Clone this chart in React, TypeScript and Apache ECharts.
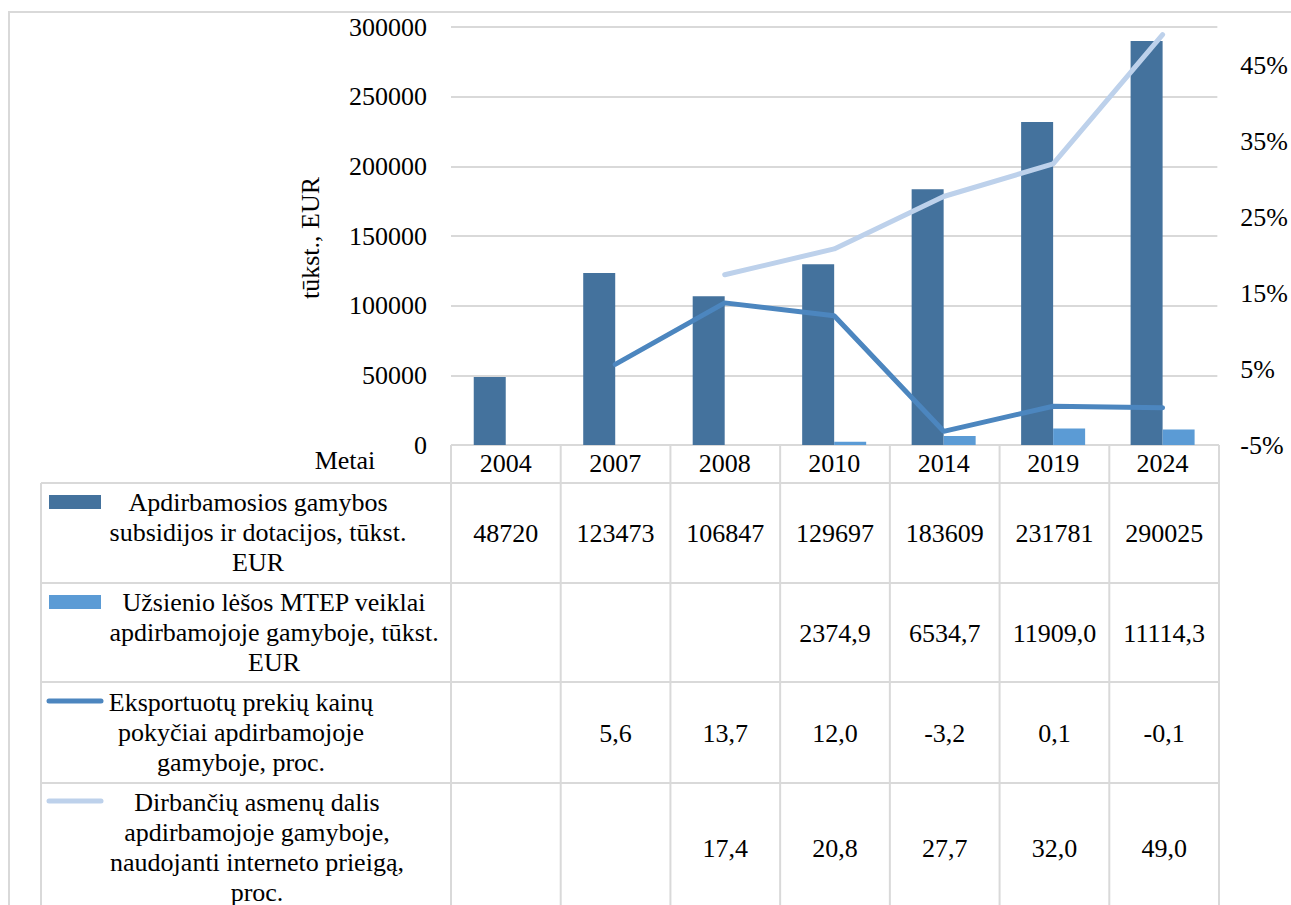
import React, { useEffect, useRef } from "react";
import * as echarts from "echarts";

const years = ["2004", "2007", "2008", "2010", "2014", "2019", "2024"];
const subsidies = [48720, 123473, 106847, 129697, 183609, 231781, 290025];
const foreignFunds = [null, null, null, 2374.9, 6534.7, 11909.0, 11114.3];
const exportPriceChange = [null, 5.6, 13.7, 12.0, -3.2, 0.1, -0.1];
const internetShare = [null, null, 17.4, 20.8, 27.7, 32.0, 49.0];

const seriesNames = [
  "Apdirbamosios gamybos\nsubsidijos ir dotacijos, tūkst.\nEUR",
  "Užsienio lėšos MTEP veiklai\napdirbamojoje gamyboje, tūkst.\nEUR",
  "Eksportuotų prekių kainų\npokyčiai apdirbamojoje\ngamyboje, proc.",
  "Dirbančių asmenų dalis\napdirbamojoje gamyboje,\nnaudojanti interneto prieigą,\nproc.",
];

const leftTicks = { min: 0, max: 300000, interval: 50000 };
const rightTicks = { min: -5, max: 50, interval: 10 };

const C_DARK = "#44729D";
const C_LIGHT = "#5B9BD5";
const C_LINE1 = "#4C86BF";
const C_LINE2 = "#BDD1EB";
const C_GRID = "#D9D9D9";
const FONT = "'Liberation Serif', 'Times New Roman', serif";
const FS = 26;

export default function App() {
  const ref = useRef<HTMLDivElement>(null);
  useEffect(() => {
    if (!ref.current) return;
    const chart = echarts.init(ref.current, null, { renderer: "svg" });

    const gridLeft = 451;
    const gridRight = 1219;
    const gridTop = 27;
    const gridBottom = 445;
    const colW = (gridRight - gridLeft) / years.length;
    const tableLeft = 41;
    const rowLines = [483, 583, 682, 783];
    const tableBottom = 910;
    const nameCenters = [258, 274, 241, 257];
    const nameFirstLine = [502, 602, 702, 802];
    const valueCenters = [533, 633, 733, 848];

    const fmt1 = (v: number | null) => (v == null ? "" : v.toFixed(1).replace(".", ","));
    const fmt0 = (v: number | null) => (v == null ? "" : String(v));
    const rows = [
      subsidies.map(fmt0),
      foreignFunds.map(fmt1),
      exportPriceChange.map(fmt1),
      internetShare.map(fmt1),
    ];

    const lineStyle = { stroke: C_GRID, lineWidth: 2 };
    const graphics: any[] = [];
    graphics.push({
      type: "rect",
      shape: { x: 9, y: 12, width: 1320, height: 1000 },
      style: { fill: "none", stroke: C_GRID, lineWidth: 2 },
      silent: true,
    });
    // table horizontal lines
    graphics.push({ type: "line", shape: { x1: gridLeft, y1: gridBottom, x2: gridRight, y2: gridBottom }, style: lineStyle });
    rowLines.forEach((y) =>
      graphics.push({ type: "line", shape: { x1: tableLeft, y1: y, x2: gridRight, y2: y }, style: lineStyle })
    );
    // vertical lines
    graphics.push({ type: "line", shape: { x1: tableLeft, y1: rowLines[0], x2: tableLeft, y2: tableBottom }, style: lineStyle });
    for (let i = 0; i <= years.length; i++) {
      const x = gridLeft + i * colW;
      graphics.push({ type: "line", shape: { x1: x, y1: gridBottom, x2: x, y2: tableBottom }, style: lineStyle });
    }
    // legend keys
    graphics.push({ type: "rect", shape: { x: 49, y: 495, width: 52, height: 14 }, style: { fill: C_DARK } });
    graphics.push({ type: "rect", shape: { x: 49, y: 595, width: 52, height: 14 }, style: { fill: C_LIGHT } });
    graphics.push({ type: "line", shape: { x1: 49, y1: 701, x2: 101, y2: 701 }, style: { stroke: C_LINE1, lineWidth: 5, lineCap: "round" } });
    graphics.push({ type: "line", shape: { x1: 49, y1: 801, x2: 101, y2: 801 }, style: { stroke: C_LINE2, lineWidth: 5, lineCap: "round" } });
    // series names
    seriesNames.forEach((name, r) => {
      graphics.push({
        type: "text",
        x: nameCenters[r],
        y: nameFirstLine[r] - 15,
        style: {
          text: name,
          fontSize: FS,
          fontFamily: FONT,
          lineHeight: 30,
          fill: "#000",
          align: "center",
          verticalAlign: "top",
        },
      });
    });
    // values
    rows.forEach((vals, r) => {
      vals.forEach((txt, i) => {
        if (!txt) return;
        graphics.push({
          type: "text",
          x: gridLeft + (i + 0.5) * colW,
          y: valueCenters[r],
          style: {
            text: txt,
            fontSize: FS,
            fontFamily: FONT,
            fill: "#000",
            align: "center",
            verticalAlign: "middle",
          },
        });
      });
    });
    // axis name and Metai
    graphics.push({
      type: "text",
      x: 310,
      y: 238,
      rotation: Math.PI / 2,
      style: { text: "tūkst., EUR", fontSize: FS, fontFamily: FONT, fill: "#000", align: "center", verticalAlign: "middle" },
    });
    graphics.push({
      type: "text",
      x: 345,
      y: 460,
      style: { text: "Metai", fontSize: FS, fontFamily: FONT, fill: "#000", align: "center", verticalAlign: "middle" },
    });

    chart.setOption({
      animation: false,
      backgroundColor: "#fff",
      textStyle: { fontFamily: FONT },
      grid: { left: gridLeft, right: 1291 - gridRight, top: gridTop, bottom: 905 - gridBottom, containLabel: false },
      xAxis: {
        type: "category",
        data: years,
        axisLine: { show: false },
        axisTick: { show: false },
        axisLabel: { fontSize: FS, fontFamily: FONT, color: "#000", margin: 5 },
      },
      yAxis: [
        {
          type: "value",
          ...leftTicks,
          axisLine: { show: false },
          axisTick: { show: false },
          axisLabel: {
            fontSize: FS,
            fontFamily: FONT,
            color: "#000",
            margin: 24,
            formatter: (v: number) => String(v),
          },
          splitLine: { lineStyle: { color: C_GRID, width: 2 } },
        },
        {
          type: "value",
          ...rightTicks,
          position: "right",
          axisLine: { show: false },
          axisTick: { show: false },
          splitLine: { show: false },
          axisLabel: {
            fontSize: FS,
            fontFamily: FONT,
            color: "#000",
            margin: 23,
            formatter: (v: number) => (v >= rightTicks.max ? "" : v + "%"),
          },
        },
      ],
      series: [
        {
          type: "bar",
          data: subsidies,
          barWidth: 32,
          barGap: "0%",
          itemStyle: { color: C_DARK },
        },
        {
          type: "bar",
          data: foreignFunds,
          barWidth: 32,
          barGap: "0%",
          itemStyle: { color: C_LIGHT },
        },
        {
          type: "line",
          yAxisIndex: 1,
          data: exportPriceChange,
          symbol: "none",
          lineStyle: { color: C_LINE1, width: 5, cap: "round" },
        },
        {
          type: "line",
          yAxisIndex: 1,
          data: internetShare,
          symbol: "none",
          lineStyle: { color: C_LINE2, width: 5, cap: "round" },
        },
      ],
      graphic: graphics,
    });
    return () => chart.dispose();
  }, []);
  return <div ref={ref} style={{ position: "absolute", left: 0, top: 0, width: 1291, height: 905 }} />;
}
